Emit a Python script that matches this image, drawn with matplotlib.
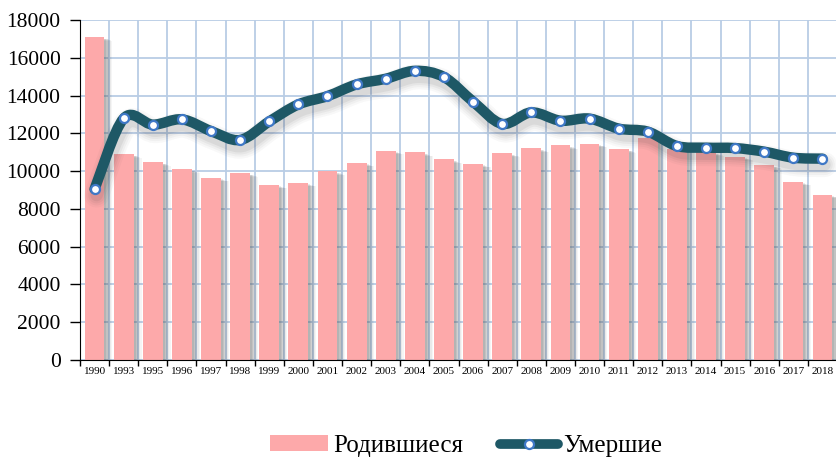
import numpy as np
import matplotlib
matplotlib.use("Agg")
import matplotlib.pyplot as plt
from matplotlib.path import Path
from matplotlib.patches import PathPatch, Rectangle
from matplotlib.lines import Line2D
import matplotlib.transforms as mtransforms

plt.rcParams['font.family'] = ['Liberation Serif', 'DejaVu Serif']

# Данные
years = ['1990', '1993', '1995', '1996', '1997', '1998', '1999', '2000', '2001',
         '2002', '2003', '2004', '2005', '2006', '2007', '2008', '2009', '2010',
         '2011', '2012', '2013', '2014', '2015', '2016', '2017', '2018']
born = [17100, 10900, 10480, 10110, 9640, 9900, 9270, 9380, 9980,
        10430, 11080, 10990, 10620, 10380, 10940, 11200, 11360, 11450,
        11170, 11730, 11150, 11000, 10760, 10320, 9430, 8750]
died = [9050, 12790, 12460, 12740, 12120, 11650, 12630, 13530, 13970,
        14590, 14890, 15310, 14980, 13680, 12500, 13110, 12670, 12780,
        12250, 12090, 11330, 11240, 11220, 11030, 10710, 10660]

bar_color = '#FDA9AA'
line_color = '#1E5866'
marker_edge = '#3F78C6'
grid_color = '#B9CDE5'

fig = plt.figure(figsize=(8.37, 4.59), dpi=100)
ax = fig.add_axes([0.0956, 0.2157, 0.9044, 0.7407])

x = np.arange(len(years))
w = 0.68

# тени столбцов (размытые)
for k, a in zip(range(6), [0.10, 0.09, 0.08, 0.07, 0.06, 0.05]):
    off = mtransforms.offset_copy(ax.transData, fig=fig, x=2 + k * 0.9, y=-1.5 - k * 0.4, units='dots')
    ax.bar(x, born, width=w + k * 0.02, color='#404040', alpha=a, transform=off, zorder=2, linewidth=0)

ax.bar(x, born, width=w, color=bar_color, zorder=3, linewidth=0)

# сглаженная линия (Безье через точки, как в Excel)
pts = np.column_stack([x, died]).astype(float)
verts = [tuple(pts[0])]
codes = [Path.MOVETO]
n = len(pts)
for i in range(n - 1):
    p0 = pts[i - 1] if i > 0 else pts[i]
    p1 = pts[i]
    p2 = pts[i + 1]
    p3 = pts[i + 2] if i + 2 < n else pts[i + 1]
    c1 = p1 + (p2 - p0) / 6
    c2 = p2 - (p3 - p1) / 6
    verts += [tuple(c1), tuple(c2), tuple(p2)]
    codes += [Path.CURVE4] * 3
path = Path(verts, codes)

# тень линии
for lw, a in [(18, 0.03), (15, 0.04), (12, 0.05), (9, 0.07)]:
    off = mtransforms.offset_copy(ax.transData, fig=fig, x=2, y=-6, units='dots')
    ax.add_patch(PathPatch(path, facecolor='none', edgecolor='#303030', lw=lw,
                           alpha=a, transform=off, zorder=4, capstyle='round'))

ax.add_patch(PathPatch(path, facecolor='none', edgecolor=line_color, lw=7.5,
                       zorder=5, capstyle='round', joinstyle='round'))
ax.plot(x, died, linestyle='none', marker='o', markersize=6.5,
        markerfacecolor='white', markeredgecolor=marker_edge, markeredgewidth=1.6, zorder=6)

ax.set_xlim(-0.5, len(years) - 0.5)
ax.set_ylim(0, 18000)
ax.set_yticks(np.arange(0, 18001, 2000))
ax.set_xticks(x)
ax.set_xticklabels(years, fontsize=8)
ax.set_xticks(np.arange(-0.5, len(years), 1), minor=True)
ax.tick_params(axis='x', which='major', length=0, pad=5)
ax.tick_params(axis='x', which='minor', length=4, direction='out', width=1)
ax.tick_params(axis='y', length=7, direction='out', width=1, labelsize=15.5, pad=7)

ax.grid(True, axis='y', color=grid_color, lw=1.3, zorder=1)
ax.grid(True, axis='x', which='minor', color=grid_color, lw=1.3, zorder=1)
ax.set_axisbelow(True)
for s in ['top', 'right']:
    ax.spines[s].set_visible(False)
ax.spines['left'].set_zorder(7)
ax.spines['bottom'].set_zorder(7)

# легенда
h_bar = Rectangle((0, 0), 1, 1, facecolor=bar_color, linewidth=0)
h_line = Line2D([], [], color=line_color, lw=7, solid_capstyle='round', marker='o',
                markersize=6.5, markerfacecolor='white', markeredgecolor=marker_edge,
                markeredgewidth=1.6, markevery=[1])
h_line.set_xdata([0, 0.5, 1])
fig.legend([h_bar, h_line], ['Родившиеся', 'Умершие'], loc='center',
           bbox_to_anchor=(0.557, 0.028), ncol=2, frameon=False, fontsize=18,
           handlelength=2.3, handleheight=0.6, handletextpad=0.2, columnspacing=1.5)

fig.savefig('out.png', dpi=100)
